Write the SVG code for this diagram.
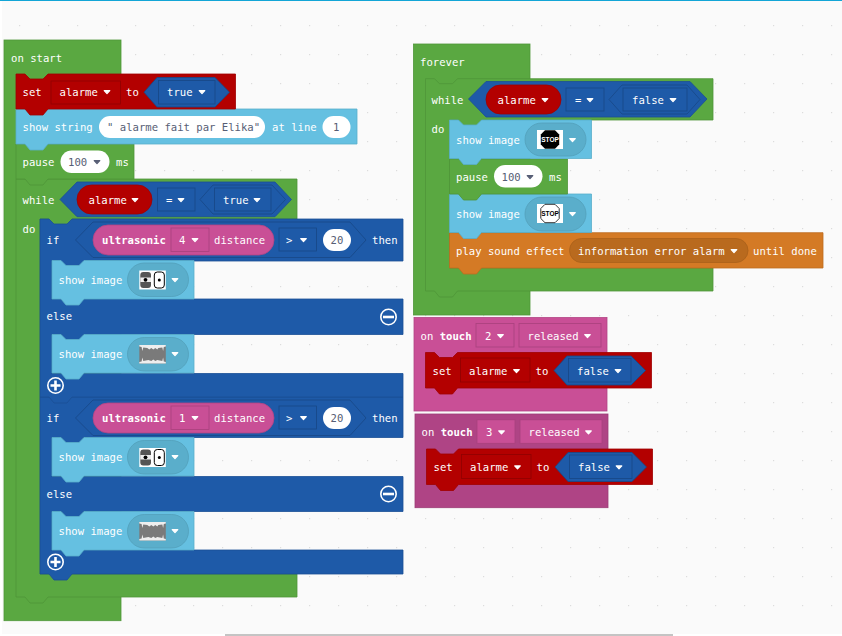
<svg xmlns="http://www.w3.org/2000/svg" width="842" height="636" viewBox="0 0 842 636">
<style>
text{font-family:"DejaVu Sans Mono","Liberation Mono",monospace;font-size:10.6px;fill:#fff}
.b{font-weight:bold}
.d{fill:#575e75}
.g{fill:#5aa841;stroke:#4f9639;stroke-width:.8}
.r{fill:#b30000;stroke:#a00000;stroke-width:.8}
.u{fill:#1e5aa8;stroke:#1a4f95;stroke-width:.8}
.c{fill:#65c0e1;stroke:#59aeca;stroke-width:.8}
.o{fill:#d47a25;stroke:#bd6c1f;stroke-width:.8}
.p{fill:#c94f96;stroke:#b24584;stroke-width:.8}
.q{fill:#af4485;stroke:#9c3c76;stroke-width:.8}
.ps{fill:#c94f96;stroke:#a8417d;stroke-width:.8}
.dr{fill:#b30000;stroke:#8f0000;stroke-width:.8}
.du{fill:#1e5aa8;stroke:#184886;stroke-width:.8}
.hx{fill:#1e5aa8;stroke:#184886;stroke-width:.8}
.pl{fill:#fff}
.im{fill:#5aaecb;stroke:#539fba;stroke-width:.8}
.or{fill:#b96a1e;stroke:#a9611b;stroke-width:.8}
.w{fill:#fff}
.k{fill:#575e75}
.ic{fill:none;stroke:#fff;stroke-width:1.6}
</style>
<defs>
<pattern id="dots" patternUnits="userSpaceOnUse" width="29" height="29"><rect x="19" y="25" width="1.2" height="1.2" fill="#dcdcdc"/></pattern>
<path id="car" d="M-2.8 -1.4H2.8L0 1.6Z" stroke-width="1.2" stroke-linejoin="round" style="stroke:inherit"/>
<path id="show" d="M0 0H9l5 5h13l5-5H142V38.5H32l-5 6H14l-5-6H0Z"/>
<g id="face">
<rect x="0" y="0" width="26.5" height="19" fill="#fff"/>
<rect x="1" y="1.5" width="10.7" height="16" rx="3" fill="#555"/>
<rect x="1" y="7" width="10.7" height="4.5" fill="#eee"/>
<circle cx="6.2" cy="9.3" r="1.9" fill="#000"/>
<rect x="15" y="1.5" width="10" height="16" rx="3" fill="#fff" stroke="#000" stroke-width="1"/>
<circle cx="20" cy="9.5" r="1.5" fill="#000"/>
</g>
<g id="mouth">
<rect x="0" y="0" width="26.5" height="18.5" fill="#7a7a7a"/>
<path d="M0 0H26.5V1.5L24.5 2 23.8 6 23 2.5 19 3 18 4.5 16 3 14 4.5 12 3 10 4.5 8 3 4 2.5 3 6 2.3 2 0 1.5Z" fill="#eee"/>
<path d="M0 18.5H26.5V17L24.5 16.5 23.8 12.5 23 16 18 15 16 16 14 14.5 12 16 9 15 4 16 3 12.5 2.3 16.5 0 17Z" fill="#eee"/>
</g>
<polygon id="oct" points="-5,-9.2 5,-9.2 9.2,-5 9.2,5 5,9.2 -5,9.2 -9.2,5 -9.2,-5"/>
<polygon id="hexset" points="0,14.7 13,0 71,0 85.5,14.7 71,29.5 13,29.5"/>
</defs>
<rect width="842" height="636" fill="#fff"/>
<rect x="2" y="1" width="840" height="633" fill="#fafafa"/>
<rect x="2" y="1" width="840" height="633" fill="url(#dots)"/>
<rect width="842" height="1" fill="#12a5d6"/>
<rect x="225" y="634" width="448" height="2" fill="#c4c4c4"/>

<g id="on-start">
<rect class="g" x="4" y="40" width="117" height="580.7"/>
<text x="11" y="62">on start</text>
</g>

<g id="while-alarme-true">
<path class="g" d="M16 179H25l5 5h13l5-5H297V219H72l-5 6H54l-5-6H40V574H297V597H48l-5 6H30l-5-6H16Z"/>
<text x="22.5" y="204">while</text>
<text x="22.5" y="233">do</text>
<polygon class="u" points="60,199.5 77,182 275,182 291.5,199.5 275,216.7 77,216.7"/>
<rect class="r" x="77" y="185" width="75" height="29" rx="14.5"/>
<text x="88.5" y="204">alarme</text><use href="#car" x="135" y="200" class="w" stroke="#fff"/>
<rect class="du" x="157.5" y="188" width="37.5" height="23"/>
<text x="166" y="204">=</text><use href="#car" x="181" y="200" class="w" stroke="#fff"/>
<polygon class="hx" points="200,199.5 213,185 272,185 285.5,199.5 272,214 213,214"/>
<rect class="du" x="214.5" y="188" width="56.5" height="23"/>
<text x="223" y="204">true</text><use href="#car" x="257" y="200" class="w" stroke="#fff"/>
</g>

<g id="if-ultrasonic-1">
<path class="u" d="M40 397H49l5 5h13l5-5H403V437.5H84l-5 6H66l-5-6H52V476.5H403V511.5H84l-5 6H66l-5-6H52V550H403V574H72l-5 6H54l-5-6H40Z"/>
<text x="46.5" y="421.5">if</text>
<polygon class="hx" points="75.5,418 93,400 350,400 366,418 350,435.5 93,435.5"/>
<rect class="p" x="93" y="403" width="181" height="30" rx="15"/>
<text class="b" x="102" y="422">ultrasonic</text>
<rect class="ps" x="171" y="406" width="38" height="23.5"/>
<text x="179" y="422">1</text><use href="#car" x="195" y="418" class="w" stroke="#fff"/>
<text x="214" y="422">distance</text>
<rect class="du" x="279" y="406" width="37.5" height="23"/>
<text x="286" y="422">&gt;</text><use href="#car" x="303.5" y="418" class="w" stroke="#fff"/>
<rect class="pl" x="323" y="407" width="28" height="22" rx="11"/>
<text class="d" x="330.6" y="421.5">20</text>
<text x="372" y="421.5">then</text>
<text x="46.5" y="497.5">else</text>
<circle class="ic" cx="388.5" cy="494" r="7.7"/><rect x="383" y="492.7" width="11" height="2.6" class="w"/>
<circle class="ic" cx="55.5" cy="562" r="7.7"/><path d="M50.5 562H60.5M55.5 557V567" stroke="#fff" stroke-width="2.6" fill="none"/>
</g>
<g id="show-image-4">
<use href="#show" x="52" y="511.5" class="c"/>
<text x="58.5" y="535">show image</text>
<rect class="im" x="127.5" y="514.5" width="61" height="33.5" rx="16.7"/>
<use href="#mouth" x="139.3" y="522"/><use href="#car" x="175" y="531" class="w" stroke="#fff"/>
</g>
<g id="show-image-3">
<use href="#show" x="52" y="437.5" class="c"/>
<text x="58.5" y="461">show image</text>
<rect class="im" x="127.5" y="440.5" width="61" height="33.5" rx="16.7"/>
<use href="#face" x="139.3" y="448"/><use href="#car" x="175" y="457" class="w" stroke="#fff"/>
</g>

<g id="if-ultrasonic-4">
<path class="u" d="M40 219H49l5 5h13l5-5H403V261H84l-5 6H66l-5-6H52V299H403V334.5H84l-5 6H66l-5-6H52V373.5H403V397H72l-5 6H54l-5-6H40Z"/>
<text x="46.5" y="243.5">if</text>
<polygon class="hx" points="75.5,240 93,222 350,222 366,240 350,257.5 93,257.5"/>
<rect class="p" x="93" y="225" width="181" height="30" rx="15"/>
<text class="b" x="102" y="244">ultrasonic</text>
<rect class="ps" x="171" y="228" width="38" height="23.5"/>
<text x="179" y="244">4</text><use href="#car" x="195" y="240" class="w" stroke="#fff"/>
<text x="214" y="244">distance</text>
<rect class="du" x="279" y="228" width="37.5" height="23"/>
<text x="286" y="244">&gt;</text><use href="#car" x="303.5" y="240" class="w" stroke="#fff"/>
<rect class="pl" x="323" y="229" width="28" height="22" rx="11"/>
<text class="d" x="330.6" y="243.5">20</text>
<text x="372" y="243.5">then</text>
<text x="46.5" y="320">else</text>
<circle class="ic" cx="388.5" cy="317" r="7.7"/><rect x="383" y="315.7" width="11" height="2.6" class="w"/>
<circle class="ic" cx="55.5" cy="385.5" r="7.7"/><path d="M50.5 385.5H60.5M55.5 380.5V390.5" stroke="#fff" stroke-width="2.6" fill="none"/>
</g>
<g id="show-image-2">
<use href="#show" x="52" y="334.5" class="c"/>
<text x="58.5" y="358">show image</text>
<rect class="im" x="127.5" y="337.5" width="61" height="33.5" rx="16.7"/>
<use href="#mouth" x="139.3" y="345"/><use href="#car" x="175" y="354" class="w" stroke="#fff"/>
</g>
<g id="show-image-1">
<use href="#show" x="52" y="260.5" class="c"/>
<text x="58.5" y="284">show image</text>
<rect class="im" x="127.5" y="263" width="61" height="33.5" rx="16.7"/>
<use href="#face" x="139.3" y="270.5"/><use href="#car" x="175" y="280" class="w" stroke="#fff"/>
</g>

<g id="pause-1">
<path class="g" d="M16 144H25l5 5h13l5-5H134V179H48l-5 6H30l-5-6H16Z"/>
<text x="22.5" y="166">pause</text>
<rect class="pl" x="60.5" y="150.5" width="49" height="22.5" rx="11.2"/>
<text class="d" x="68" y="166">100</text><use href="#car" x="97" y="162" class="k" stroke="#575e75"/>
<text x="116" y="166">ms</text>
</g>
<g id="show-string">
<path class="c" d="M16 109H25l5 5h13l5-5H357V144H48l-5 6H30l-5-6H16Z"/>
<text x="22.5" y="131">show string</text>
<rect class="pl" x="99" y="116" width="166" height="22" rx="11"/>
<text class="d" x="107" y="131" xml:space="preserve">" alarme fait par Elika"</text>
<text x="272" y="131">at line</text>
<rect class="pl" x="322.5" y="116" width="28" height="22" rx="11"/>
<text class="d" x="333" y="131">1</text>
</g>
<g id="set-alarme-true">
<path class="r" d="M16 74H25l5 5h13l5-5H235.5V109H48l-5 6H30l-5-6H16Z"/>
<text x="22.5" y="96">set</text>
<rect class="dr" x="51" y="81" width="69.5" height="23"/>
<text x="59.5" y="96">alarme</text><use href="#car" x="107" y="92" class="w" stroke="#fff"/>
<text x="126" y="96">to</text>
<use href="#hexset" x="144" y="77.5" class="hx"/>
<rect class="du" x="158.5" y="80.5" width="56.5" height="23.5"/>
<text x="167" y="96">true</text><use href="#car" x="202" y="92" class="w" stroke="#fff"/>
</g>

<g id="forever">
<rect class="g" x="413.5" y="44" width="116.5" height="271"/>
<text x="420" y="66">forever</text>
</g>
<g id="while-alarme-false">
<path class="g" d="M425.5 78.7h9l5 5h13l5-5H713V120H481.5l-5 6h-13l-5-6H449.5V268H713V291H457.5l-5 6h-13l-5-6h-9Z"/>
<text x="431.5" y="104">while</text>
<text x="431.5" y="133">do</text>
<polygon class="u" points="468.5,99 486,81.5 690,81.5 707,99 690,117 486,117"/>
<rect class="r" x="486" y="85" width="75" height="29" rx="14.5"/>
<text x="497.5" y="104">alarme</text><use href="#car" x="545" y="100" class="w" stroke="#fff"/>
<rect class="du" x="566" y="88" width="38" height="23"/>
<text x="575" y="104">=</text><use href="#car" x="590" y="100" class="w" stroke="#fff"/>
<polygon class="hx" points="609,99.5 622,85 687,85 700,99.5 687,114 622,114"/>
<rect class="du" x="623" y="88" width="64" height="23"/>
<text x="632" y="104">false</text><use href="#car" x="673" y="100" class="w" stroke="#fff"/>
</g>
<g id="play-sound">
<path class="o" d="M449.5 232.7h9l5 5h13l5-5H823V268H481.5l-5 6h-13l-5-6h-9Z"/>
<text x="456" y="255">play sound effect</text>
<rect class="or" x="569.5" y="238.5" width="178.5" height="24" rx="12"/>
<text x="578" y="255">information error alarm</text><use href="#car" x="734" y="251" class="w" stroke="#fff"/>
<text x="753" y="255">until done</text>
</g>
<g id="show-image-stop-outline">
<use href="#show" x="449.5" y="194" class="c"/>
<text x="456" y="218">show image</text>
<rect class="im" x="525" y="197" width="61" height="34" rx="17"/>
<rect x="537" y="204" width="26" height="19" fill="#fff"/>
<use href="#oct" x="550" y="213.5" fill="#fff" stroke="#333" stroke-width="1"/>
<text x="550" y="215.7" text-anchor="middle" style="font-family:'Liberation Sans',sans-serif;font-size:6.5px;font-weight:bold;fill:#000">STOP</text>
<use href="#car" x="572.5" y="214" class="w" stroke="#fff"/>
</g>
<g id="pause-2">
<path class="g" d="M449.5 159h9l5 5h13l5-5H567.5V194H481.5l-5 6h-13l-5-6h-9Z"/>
<text x="456" y="181">pause</text>
<rect class="pl" x="494" y="165" width="48.5" height="22.5" rx="11.2"/>
<text class="d" x="501.5" y="181">100</text><use href="#car" x="530" y="177" class="k" stroke="#575e75"/>
<text x="549" y="181">ms</text>
</g>
<g id="show-image-stop-solid">
<use href="#show" x="449.5" y="120" class="c"/>
<text x="456" y="144">show image</text>
<rect class="im" x="525" y="123" width="61" height="33" rx="16.5"/>
<rect x="537" y="130" width="26" height="19" fill="#fff"/>
<use href="#oct" x="550" y="139.5" fill="#000"/>
<text x="550" y="141.7" text-anchor="middle" style="font-family:'Liberation Sans',sans-serif;font-size:6.5px;font-weight:bold;fill:#fff">STOP</text>
<use href="#car" x="572.5" y="140" class="w" stroke="#fff"/>
</g>

<g id="on-touch-2">
<rect class="p" x="414" y="317.5" width="193" height="93.5"/>
<text x="420.5" y="340">on <tspan class="b">touch</tspan></text>
<rect class="ps" x="476" y="323.5" width="38" height="23.5"/>
<text x="485" y="340">2</text><use href="#car" x="500.5" y="336" class="w" stroke="#fff"/>
<rect class="ps" x="519" y="323.5" width="82" height="23.5"/>
<text x="527.5" y="340">released</text><use href="#car" x="587.5" y="336" class="w" stroke="#fff"/>
</g>
<g id="set-alarme-false-2">
<path class="r" d="M425.5 352.5h9l5 5h13l5-5H651.5V388H457.5l-5 6h-13l-5-6h-9Z"/>
<text x="432.5" y="375">set</text>
<rect class="dr" x="460.5" y="358" width="69.5" height="24"/>
<text x="469" y="375">alarme</text><use href="#car" x="516.5" y="371" class="w" stroke="#fff"/>
<text x="535.5" y="375">to</text>
<polygon class="hx" points="554,370.5 567,356 631,356 645.5,370.5 631,385 567,385"/>
<rect class="du" x="568.5" y="358.5" width="62.5" height="23.5"/>
<text x="577" y="375">false</text><use href="#car" x="618" y="371" class="w" stroke="#fff"/>
</g>
<g id="on-touch-3">
<rect class="q" x="415" y="414" width="193" height="93.7"/>
<text x="421.5" y="436.3">on <tspan class="b">touch</tspan></text>
<rect class="ps" x="477" y="419.8" width="38" height="23.5"/>
<text x="486" y="436.3">3</text><use href="#car" x="501.5" y="432.3" class="w" stroke="#fff"/>
<rect class="ps" x="520" y="419.8" width="82" height="23.5"/>
<text x="528.5" y="436.3">released</text><use href="#car" x="588.5" y="432.3" class="w" stroke="#fff"/>
</g>
<g id="set-alarme-false-3">
<path class="r" d="M426.5 449h9l5 5h13l5-5H652.5V484.5H458.5l-5 6h-13l-5-6h-9Z"/>
<text x="433.5" y="471.3">set</text>
<rect class="dr" x="461.5" y="454.5" width="69.5" height="24"/>
<text x="470" y="471.3">alarme</text><use href="#car" x="517.5" y="467.3" class="w" stroke="#fff"/>
<text x="536.5" y="471.3">to</text>
<polygon class="hx" points="555,467 568,452.5 632,452.5 646.5,467 632,481.5 568,481.5"/>
<rect class="du" x="569.5" y="455" width="62.5" height="23.5"/>
<text x="578" y="471.3">false</text><use href="#car" x="619" y="467.3" class="w" stroke="#fff"/>
</g>
</svg>
